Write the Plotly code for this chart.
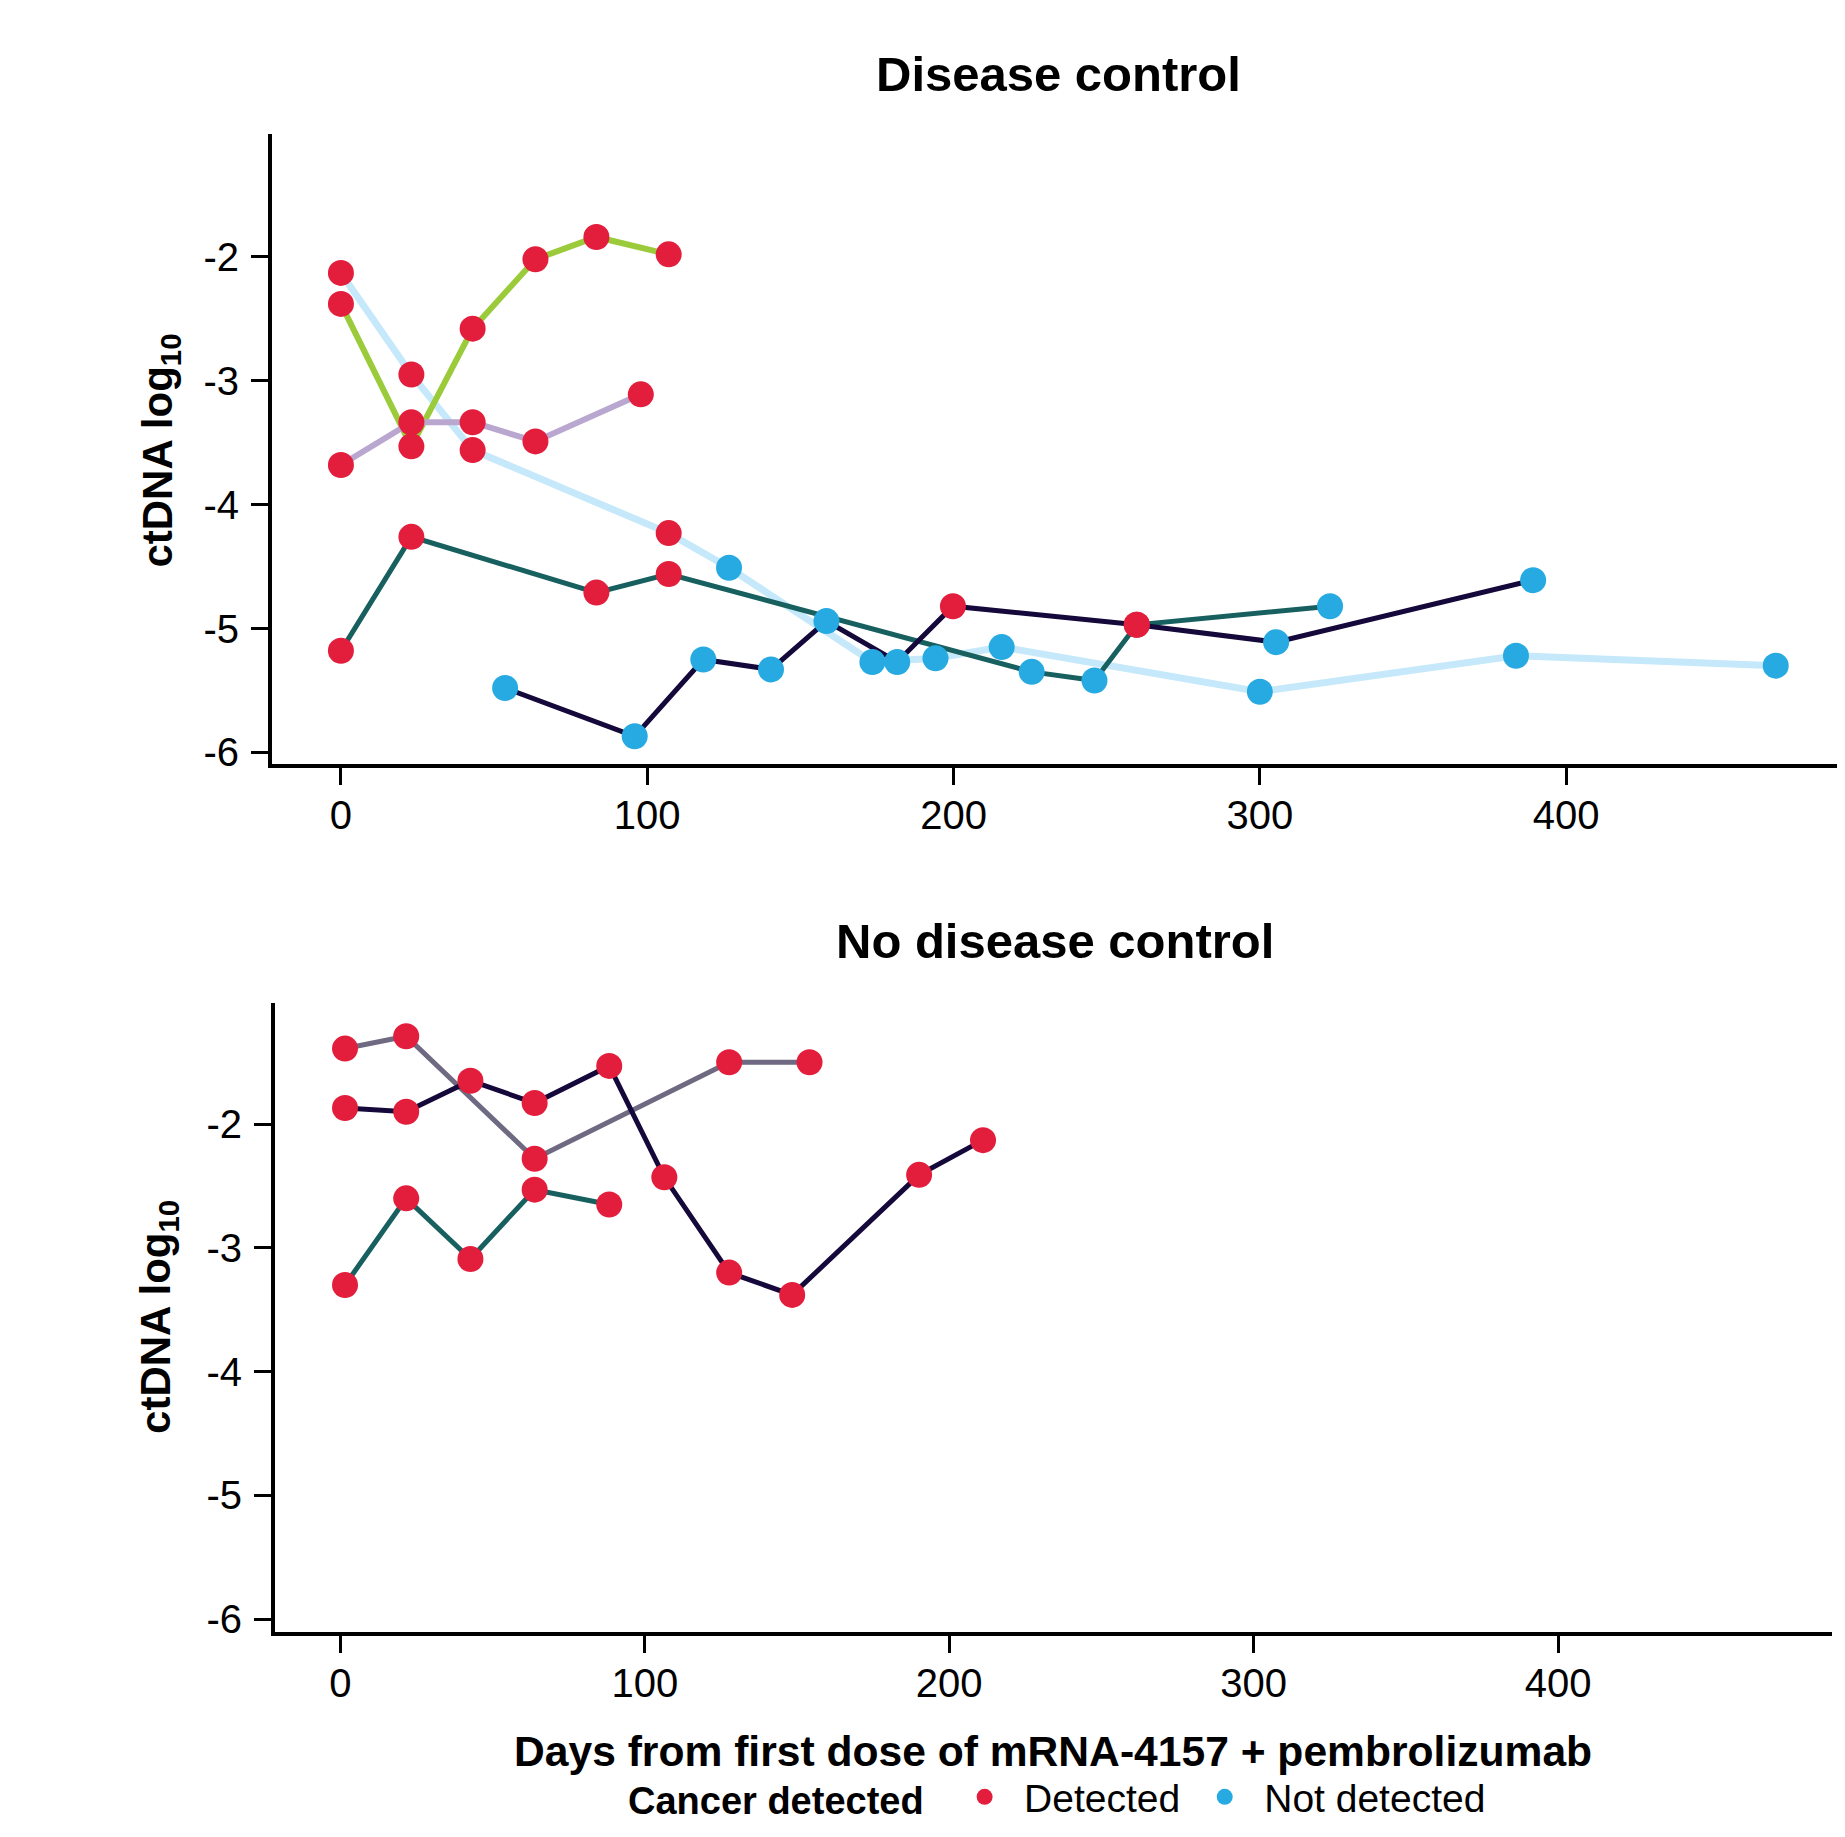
import plotly.graph_objects as go

# ---------------- data ----------------
# Disease control panel
green_days = [0, 23, 43, 63.5, 83.4, 107]
green_vals = [-2.38, -3.53, -2.58, -2.02, -1.84, -1.98]
green_det = [1, 1, 1, 1, 1, 1]

lblue_days = [0, 23, 43, 107, 126.7, 173.5, 194.1, 215.7, 300, 383.6, 468.4]
lblue_vals = [-2.13, -2.95, -3.56, -4.23, -4.51, -5.27, -5.24, -5.15, -5.51, -5.22, -5.30]
lblue_det = [1, 1, 1, 1, 0, 0, 0, 0, 0, 0, 0]

purple_days = [0, 23, 43, 63.5, 97.9]
purple_vals = [-3.68, -3.335, -3.335, -3.49, -3.11]
purple_det = [1, 1, 1, 1, 1]

teal_days = [0, 23, 83.4, 107, 225.5, 246, 259.8, 322.9]
teal_vals = [-5.18, -4.26, -4.71, -4.56, -5.35, -5.42, -4.97, -4.82]
teal_det = [1, 1, 1, 1, 0, 0, 1, 0]

navy_days = [53.6, 95.9, 118.3, 140.4, 158.5, 181.6, 199.8, 259.8, 305.3, 389.2]
navy_vals = [-5.48, -5.87, -5.25, -5.33, -4.94, -5.27, -4.82, -4.97, -5.11, -4.61]
navy_det = [0, 0, 0, 0, 0, 0, 1, 1, 0, 0]

# No disease control panel
gray_days = [1.5, 21.6, 63.8, 127.7, 154.1]
gray_vals = [-1.39, -1.29, -2.28, -1.50, -1.50]
gray_det = [1, 1, 1, 1, 1]

navy2_days = [1.5, 21.6, 42.7, 63.8, 88.3, 106.4, 127.7, 148.4, 190.1, 211.1]
navy2_vals = [-1.87, -1.90, -1.65, -1.83, -1.53, -2.43, -3.20, -3.38, -2.41, -2.13]
navy2_det = [1, 1, 1, 1, 1, 1, 1, 1, 1, 1]

teal2_days = [1.5, 21.6, 42.7, 63.8, 88.3]
teal2_vals = [-3.30, -2.60, -3.09, -2.53, -2.65]
teal2_det = [1, 1, 1, 1, 1]

y_ticks = [-6, -5, -4, -3, -2]
y_ticklabels = ["-6", "-5", "-4", "-3", "-2"]
x_ticks = [0, 100, 200, 300, 400]

# ---------------- styles ----------------
RED = "#E31D3C"
BLUE = "#27AAE1"
FONT = "Liberation Sans, Arial, sans-serif"

top_series = [
    (lblue_days, lblue_vals, lblue_det, "#C5E9FA", 7),
    (green_days, green_vals, green_det, "#9BCB3B", 6),
    (purple_days, purple_vals, purple_det, "#BAA7D0", 6),
    (teal_days, teal_vals, teal_det, "#17605F", 5),
    (navy_days, navy_vals, navy_det, "#15083A", 5),
]
bottom_series = [
    (gray_days, gray_vals, gray_det, "#6F6A82", 5),
    (navy2_days, navy2_vals, navy2_det, "#15083A", 5),
    (teal2_days, teal2_vals, teal2_det, "#17605F", 5),
]

fig = go.Figure()

def add_panel(series, xa, ya, show_legend):
    for d, v, det, col, w in series:
        fig.add_trace(go.Scatter(x=d, y=v, mode="lines", line=dict(color=col, width=w),
                                 xaxis=xa, yaxis=ya, showlegend=False, hoverinfo="skip"))
    for flag, name, col in [(1, "\u2002Detected\u2002", RED), (0, "\u2002Not detected", BLUE)]:
        xs, ys = [], []
        for d, v, det, _, _ in series:
            for xi, yi, di in zip(d, v, det):
                if di == flag:
                    xs.append(xi)
                    ys.append(yi)
        fig.add_trace(go.Scatter(x=xs, y=ys, mode="markers", name=name,
                                 marker=dict(color=col, size=26, line=dict(width=0)),
                                 xaxis=xa, yaxis=ya, legendgroup=name,
                                 showlegend=show_legend))

add_panel(top_series, "x", "y", True)
add_panel(bottom_series, "x2", "y2", False)

W, H = 1829, 1821

axis_common = dict(showline=True, linecolor="black", linewidth=4, ticks="outside",
                   ticklen=17, tickwidth=3, tickcolor="black", showgrid=False, zeroline=False,
                   tickfont=dict(family=FONT, size=40, color="black"))

fig.update_layout(
    width=W, height=H,
    margin=dict(l=0, r=0, t=0, b=0),
    plot_bgcolor="white", paper_bgcolor="white",
    xaxis=dict(domain=[264 / W, 1.0], range=[-22.5, 488.4], tickvals=x_ticks,
               anchor="y", ticklabelstandoff=-4, **axis_common),
    yaxis=dict(domain=[1 - 763.1 / H, 1 - 127.4 / H], range=[-6.09, -1.01], tickvals=y_ticks,
               ticktext=y_ticklabels, anchor="x", ticklabelstandoff=4, **axis_common),
    xaxis2=dict(domain=[267 / W, 1824 / W], range=[-21.5, 490], tickvals=x_ticks,
                anchor="y2", ticklabelstandoff=-4, **axis_common),
    yaxis2=dict(domain=[1 - 1639.8 / H, 1 - 1004.7 / H], range=[-6.1, -1.02], tickvals=y_ticks,
                ticktext=y_ticklabels, anchor="x2", ticklabelstandoff=4, **axis_common),
    legend=dict(orientation="h", x=618 / W, xanchor="left", y=1 - 1807 / H, yanchor="middle",
                font=dict(family=FONT, size=39, color="black"),
                title=dict(text="<b>Cancer detected</b>\u2002\u2009\u2006", side="left",
                           font=dict(family=FONT, size=38, color="black")),
                itemwidth=30, tracegroupgap=0, bgcolor="rgba(0,0,0,0)"),
    showlegend=True,
)

annos = [
    dict(text="<b>Disease control</b>", x=1050 / W, y=1 - 66.5 / H, size=49, angle=0),
    dict(text="<b>No disease control</b>", x=1047 / W, y=1 - 942 / H, size=49, angle=0),
    dict(text="<b>Days from first dose of mRNA-4157 + pembrolizumab</b>", x=1045 / W,
         y=1 - 1760.5 / H, size=42.6, angle=0),
    dict(text="<b>ctDNA log<sub>10</sub></b>", x=153 / W, y=1 - 447 / H, size=42, angle=-90),
    dict(text="<b>ctDNA log<sub>10</sub></b>", x=151 / W, y=1 - 1322 / H, size=42, angle=-90),
]
for a in annos:
    fig.add_annotation(text=a["text"], x=a["x"], y=a["y"], xref="paper", yref="paper",
                       xanchor="center", yanchor="middle", showarrow=False, textangle=a["angle"],
                       font=dict(family=FONT, size=a["size"], color="black"))

fig.write_html("out.html")
